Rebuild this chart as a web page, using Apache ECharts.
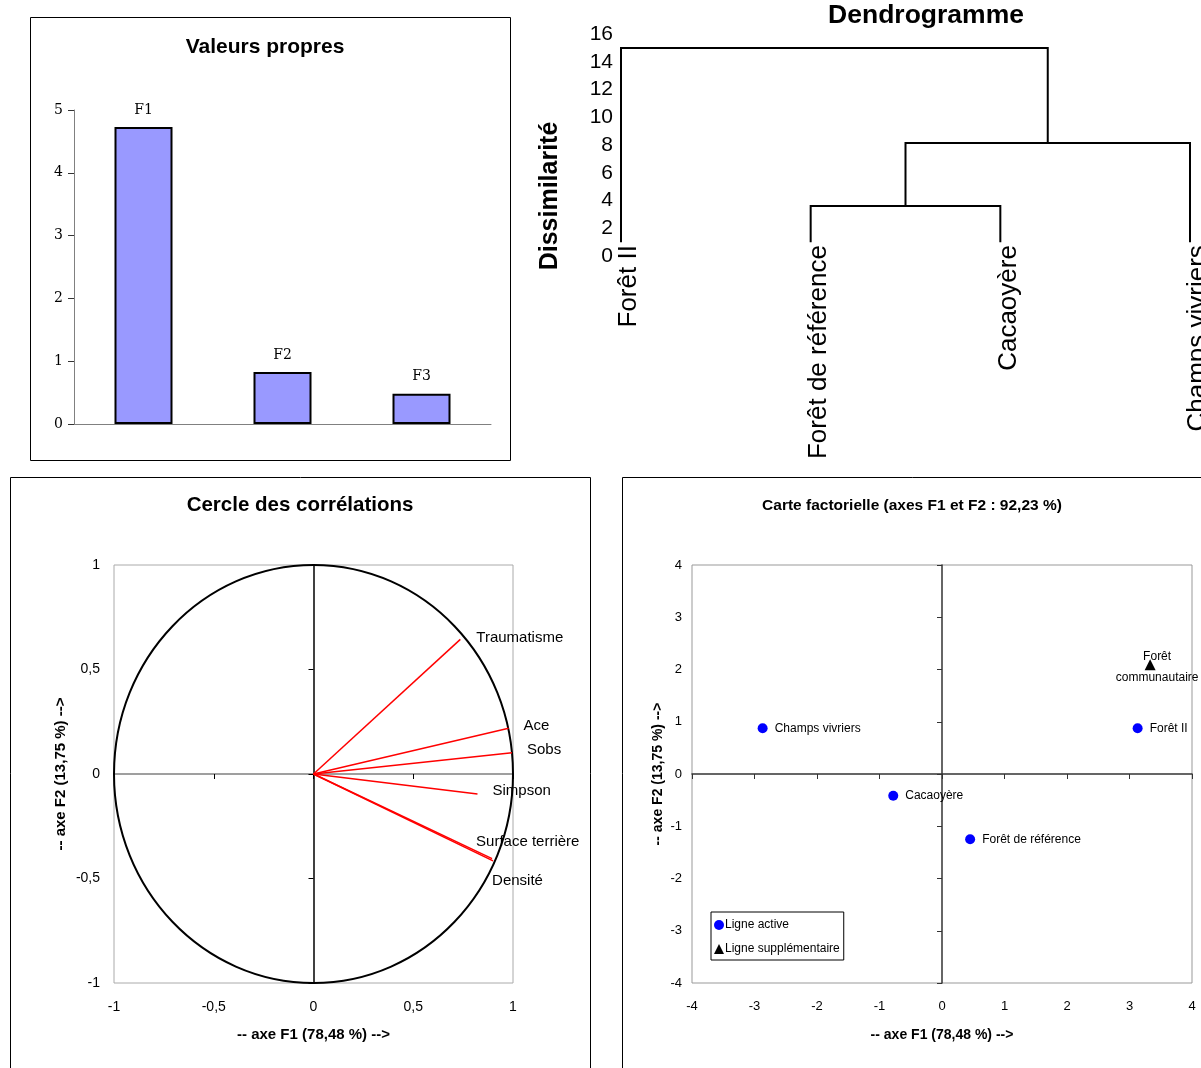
<!DOCTYPE html>
<html><head><meta charset="utf-8">
<script src="https://cdn.jsdelivr.net/npm/echarts@6/dist/echarts.min.js"></script>
<style>html,body{margin:0;padding:0;background:#fff}#c{width:1201px;height:1068px}</style>
</head><body><div id="c"></div>
<script>
// ---------- Valeurs propres ----------
const eigenCategories = ['F1', 'F2', 'F3'];
const eigenValues = [4.73, 0.83, 0.48];

// ---------- Dendrogramme ----------
const dendroLeaves = ['Forêt II', 'Forêt de référence', 'Cacaoyère', 'Champs vivriers'];
const dendroLeafHeight = 1.0;
// [left node, right node, height]; nodes 0-3 = leaves, 4.. = merges in order
const dendroMerges = [[1, 2, 3.6], [4, 3, 8.15], [0, 5, 15.0]];

// ---------- Cercle des corrélations ----------
const varNames = ['Traumatisme', 'Ace', 'Sobs', 'Simpson', 'Surface terrière', 'Densité'];
const varF1 = [0.736, 0.978, 0.995, 0.822, 0.895, 0.900];
const varF2 = [0.644, 0.219, 0.102, -0.096, -0.405, -0.416];

// ---------- Carte factorielle ----------
const activeNames = ['Champs vivriers', 'Forêt II', 'Cacaoyère', 'Forêt de référence'];
const activeF1 = [-2.87, 3.13, -0.78, 0.45];
const activeF2 = [0.875, 0.875, -0.416, -1.25];
const supNames = ['Forêt communautaire'];
const supF1 = [3.33];
const supF2 = [2.09];

// ---------- styles ----------
const SANS = "'Liberation Sans', Arial, sans-serif";
const NARROW = "'Liberation Sans Narrow', 'Arial Narrow', 'Liberation Sans', sans-serif";
const SERIF = "'DejaVu Serif', 'Liberation Serif', serif";
const varLabelOffsets = [[16, -2], [15, -2], [15, -3], [15, -3], [-16, -17], [-1, 20]];
const comma = v => String(v).replace('.', ',');

// dendrogram polylines from merges
const nodeX = dendroLeaves.map((_, i) => i);
const nodeH = dendroLeaves.map(() => dendroLeafHeight);
const dendroLines = [];
dendroMerges.forEach(([a, b, h]) => {
  dendroLines.push({ coords: [[nodeX[a], nodeH[a]], [nodeX[a], h], [nodeX[b], h], [nodeX[b], nodeH[b]]] });
  nodeX.push((nodeX[a] + nodeX[b]) / 2);
  nodeH.push(h);
});

const chart = echarts.init(document.getElementById('c'), null, { renderer: 'canvas' });
chart.setOption({
  animation: false,
  backgroundColor: '#fff',
  textStyle: { fontFamily: SANS },
  title: [
    { text: 'Valeurs propres', left: 265, top: 37, padding: 0, textAlign: 'center',
      textStyle: { fontSize: 21, fontWeight: 'bold', fontFamily: SANS, color: '#000' } },
    { text: 'Dendrogramme', left: 926, top: 2, padding: 0, textAlign: 'center',
      textStyle: { fontSize: 26.5, fontWeight: 'bold', fontFamily: SANS, color: '#000' } },
    { text: 'Cercle des corrélations', left: 300, top: 495, padding: 0, textAlign: 'center',
      textStyle: { fontSize: 20.5, fontWeight: 'bold', fontFamily: SANS, color: '#000' } },
    { text: 'Carte factorielle (axes F1 et F2 : 92,23 %)', left: 912, top: 498, padding: 0, textAlign: 'center',
      textStyle: { fontSize: 15.5, fontWeight: 'bold', fontFamily: NARROW, color: '#000' } }
  ],
  graphic: [
    { type: 'rect', shape: { x: 30.5, y: 17.5, width: 480, height: 443 }, style: { fill: 'none', stroke: '#000', lineWidth: 1 }, z: -10 },
    { type: 'rect', shape: { x: 10.5, y: 477.5, width: 580, height: 620 }, style: { fill: 'none', stroke: '#000', lineWidth: 1 }, z: -10 },
    { type: 'rect', shape: { x: 622.5, y: 477.5, width: 620, height: 620 }, style: { fill: 'none', stroke: '#000', lineWidth: 1 }, z: -10 }
  ],
  legend: {
    data: [{ name: 'Ligne active', icon: 'circle' }, { name: 'Ligne supplémentaire', icon: 'triangle' }],
    left: 711, top: 912, orient: 'vertical', padding: [7, 4, 5, 3], itemGap: 12,
    itemWidth: 10, itemHeight: 10, borderColor: '#000', borderWidth: 1, backgroundColor: '#fff',
    textStyle: { fontFamily: NARROW, fontSize: 12, color: '#000', padding: [0, 0, 0, -4] }
  },
  grid: [
    { left: 74, top: 110, width: 417, height: 314 },
    { left: 621, top: 34, width: 569, height: 222 },
    { left: 114, top: 565, width: 399, height: 418, show: true, borderColor: '#aaa', borderWidth: 1 },
    { left: 692, top: 565, width: 500, height: 418, show: true, borderColor: '#999', borderWidth: 1 }
  ],
  xAxis: [
    { gridIndex: 0, type: 'category', data: eigenCategories,
      axisLine: { lineStyle: { color: '#808080', width: 1 } }, axisTick: { show: false }, axisLabel: { show: false } },
    { gridIndex: 1, type: 'value', min: 0, max: 3, show: false },
    { gridIndex: 2, type: 'value', min: -1, max: 1, interval: 0.5, position: 'bottom',
      axisLine: { show: false, onZero: false }, axisTick: { show: false }, splitLine: { show: false },
      axisLabel: { formatter: comma, fontSize: 14, color: '#000', margin: 17, fontFamily: SANS },
      name: '-- axe F1 (78,48 %) -->', nameLocation: 'middle', nameGap: 44,
      nameTextStyle: { fontSize: 15, fontWeight: 'bold', color: '#000', fontFamily: SANS } },
    { gridIndex: 2, type: 'value', min: -1, max: 1, interval: 0.5, position: 'top',
      axisLine: { onZero: true, lineStyle: { color: '#808080', width: 1.5 } },
      axisTick: { show: true, inside: true, length: 5, lineStyle: { color: '#000' } },
      axisLabel: { show: false }, splitLine: { show: false } },
    { gridIndex: 3, type: 'value', min: -4, max: 4, interval: 1, position: 'bottom',
      axisLine: { show: false, onZero: false }, axisTick: { show: false }, splitLine: { show: false },
      axisLabel: { fontSize: 13, color: '#000', margin: 17, fontFamily: NARROW },
      name: '-- axe F1 (78,48 %) -->', nameLocation: 'middle', nameGap: 45,
      nameTextStyle: { fontSize: 14, fontWeight: 'bold', color: '#000', fontFamily: NARROW } },
    { gridIndex: 3, type: 'value', min: -4, max: 4, interval: 1, position: 'top',
      axisLine: { onZero: true, lineStyle: { color: '#333', width: 1.5 } },
      axisTick: { show: true, inside: true, length: 5, lineStyle: { color: '#333' } },
      axisLabel: { show: false }, splitLine: { show: false } }
  ],
  yAxis: [
    { gridIndex: 0, type: 'value', min: 0, max: 5, interval: 1,
      axisLine: { show: true, lineStyle: { color: '#808080', width: 1 } },
      axisTick: { show: true, length: 6, lineStyle: { color: '#333' } }, splitLine: { show: false },
      axisLabel: { fontFamily: SERIF, fontSize: 14, color: '#000', margin: 11 } },
    { gridIndex: 1, type: 'value', min: 0, max: 16, interval: 2,
      axisLine: { show: false }, axisTick: { show: false }, splitLine: { show: false },
      axisLabel: { fontSize: 21, color: '#000', margin: 8, fontFamily: SANS },
      name: 'Dissimilarité', nameLocation: 'middle', nameGap: 58,
      nameTextStyle: { fontSize: 25, fontWeight: 'bold', color: '#000', fontFamily: SANS, padding: [0, 102, 0, 0] } },
    { gridIndex: 2, type: 'value', min: -1, max: 1, interval: 0.5, position: 'left',
      axisLine: { show: false, onZero: false }, axisTick: { show: false }, splitLine: { show: false },
      axisLabel: { formatter: comma, fontSize: 14, color: '#000', margin: 14, fontFamily: SANS },
      name: '-- axe F2 (13,75 %) -->', nameLocation: 'middle', nameGap: 46,
      nameTextStyle: { fontSize: 15, fontWeight: 'bold', color: '#000', fontFamily: SANS } },
    { gridIndex: 2, type: 'value', min: -1, max: 1, interval: 0.5, position: 'right',
      axisLine: { onZero: true, lineStyle: { color: '#000', width: 1.5 } },
      axisTick: { show: true, inside: true, length: 5, lineStyle: { color: '#000' } },
      axisLabel: { show: false }, splitLine: { show: false } },
    { gridIndex: 3, type: 'value', min: -4, max: 4, interval: 1, position: 'left',
      axisLine: { show: false, onZero: false }, axisTick: { show: false }, splitLine: { show: false },
      axisLabel: { fontSize: 13, color: '#000', margin: 10, fontFamily: NARROW },
      name: '-- axe F2 (13,75 %) -->', nameLocation: 'middle', nameGap: 27,
      nameTextStyle: { fontSize: 14, fontWeight: 'bold', color: '#000', fontFamily: NARROW } },
    { gridIndex: 3, type: 'value', min: -4, max: 4, interval: 1, position: 'right',
      axisLine: { onZero: true, lineStyle: { color: '#333', width: 1.5 } },
      axisTick: { show: true, inside: true, length: 5, lineStyle: { color: '#333' } },
      axisLabel: { show: false }, splitLine: { show: false } }
  ],
  series: [
    { type: 'bar', xAxisIndex: 0, yAxisIndex: 0, data: eigenValues, barWidth: 58,
      itemStyle: { color: '#9999FF', borderColor: '#000', borderWidth: 2 },
      label: { show: true, position: 'top', distance: 10, formatter: '{b}', fontFamily: SERIF, fontSize: 14, color: '#000' } },
    { type: 'lines', coordinateSystem: 'cartesian2d', xAxisIndex: 1, yAxisIndex: 1, polyline: true,
      data: dendroLines, lineStyle: { color: '#000', width: 2, opacity: 1 } },
    { type: 'custom', xAxisIndex: 1, yAxisIndex: 1, clip: false,
      data: dendroLeaves.map((n, i) => [i, dendroLeafHeight]),
      renderItem: (params, api) => {
        const p = api.coord([api.value(0), api.value(1)]);
        return { type: 'text', x: p[0] + 8, y: p[1] + 3, rotation: Math.PI / 2,
          style: { text: dendroLeaves[params.dataIndex], fontSize: 26, fontFamily: SANS, fill: '#000',
            align: 'right', verticalAlign: 'middle' } };
      } },
    { type: 'custom', xAxisIndex: 2, yAxisIndex: 2, clip: false, data: [[0, 0]],
      renderItem: (params, api) => {
        const c = api.coord([0, 0]);
        const s = api.size([1, 1]);
        return { type: 'ellipse', shape: { cx: c[0], cy: c[1], rx: s[0], ry: s[1] },
          style: { fill: 'none', stroke: '#000', lineWidth: 2 } };
      } },
    { type: 'lines', coordinateSystem: 'cartesian2d', xAxisIndex: 2, yAxisIndex: 2,
      data: varF1.map((x, i) => ({ coords: [[0, 0], [x, varF2[i]]] })),
      lineStyle: { color: '#FF0000', width: 1.5, opacity: 1 }, z: 3 },
    { type: 'scatter', xAxisIndex: 2, yAxisIndex: 2, symbolSize: 0, itemStyle: { opacity: 1 },
      data: varF1.map((x, i) => ({ value: [x, varF2[i]], name: varNames[i], label: { offset: varLabelOffsets[i] } })),
      label: { show: true, position: 'right', distance: 0, formatter: '{b}', fontSize: 15, color: '#000', fontFamily: SANS } },
    { name: 'Ligne active', type: 'scatter', xAxisIndex: 4, yAxisIndex: 4, symbol: 'circle', symbolSize: 10,
      itemStyle: { color: '#0000FF', opacity: 1 },
      data: activeF1.map((x, i) => ({ value: [x, activeF2[i]], name: activeNames[i] })),
      label: { show: true, position: 'right', distance: 7, formatter: '{b}', fontSize: 12, color: '#000', fontFamily: NARROW } },
    { name: 'Ligne supplémentaire', type: 'scatter', xAxisIndex: 4, yAxisIndex: 4, symbol: 'triangle', symbolSize: 11,
      itemStyle: { color: '#000', opacity: 1 },
      data: supF1.map((x, i) => ({ value: [x, supF2[i]], name: supNames[i] })),
      label: { show: true, position: 'inside', offset: [7, 2], formatter: p => p.name.replace(' ', '\n'),
        lineHeight: 21, align: 'center', fontSize: 12, color: '#000', fontFamily: NARROW } }
  ]
});
</script></body></html>
